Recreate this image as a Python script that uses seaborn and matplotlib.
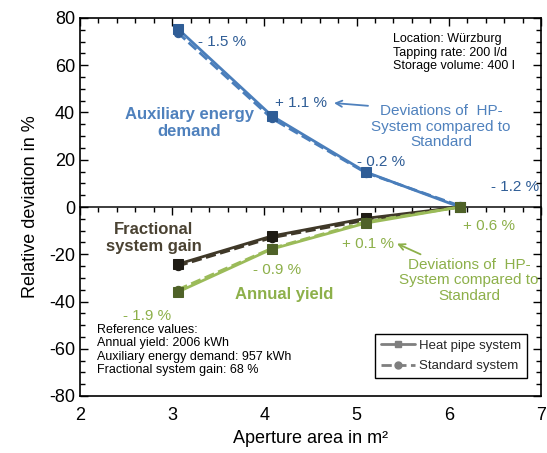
import matplotlib
matplotlib.use("Agg")
import matplotlib.pyplot as plt
import seaborn as sns
import numpy as np
from matplotlib.lines import Line2D
from matplotlib.ticker import MultipleLocator, NullFormatter

sns.set_theme(style="white")
plt.rcParams['font.family'] = ['Liberation Sans', 'DejaVu Sans']
plt.rcParams['axes.unicode_minus'] = False

aperture = [3.06, 4.08, 5.10, 6.12]
aux_hp = [75.5, 38.6, 14.8, 0.0]
aux_std = [73.8, 37.5, 14.5, 0.5]
frac_hp = [-24.2, -12.3, -4.8, 0.0]
frac_std = [-25.0, -13.0, -5.6, 0.0]
yield_hp = [-36.0, -17.8, -6.8, 0.0]
yield_std = [-35.0, -17.5, -6.3, 0.0]

aux_labels = ["- 1.5 %", "+ 1.1 %", "- 0.2 %", "- 1.2 %"]
yield_labels = ["- 1.9 %", "- 0.9 %", "+ 0.1 %", "+ 0.6 %"]

blue_line = "#4a7ebb"
blue_mark = "#2f5d96"
blue_text = "#4f81bd"
brown_line = "#3f3828"
brown_mark = "#1e1b14"
brown_text = "#4a4232"
green_line = "#9bbb59"
green_mark = "#4f6228"
green_text = "#8db04a"

L, R, T, B = 80, 541, 18, 396
W, H = 547, 453
fig = plt.figure(figsize=(5.47, 4.53), dpi=100)
ax = fig.add_axes([L / W, 1 - B / H, (R - L) / W, (B - T) / H])

series = [
    (aux_std, blue_line, blue_mark, "o", "--"),
    (aux_hp, blue_line, blue_mark, "s", "-"),
    (frac_std, brown_line, brown_mark, "o", "--"),
    (frac_hp, brown_line, brown_mark, "s", "-"),
    (yield_std, green_line, green_mark, "o", "--"),
    (yield_hp, green_line, green_mark, "s", "-"),
]
for vals, lc, mc, mk, ls in series:
    sns.lineplot(x=aperture, y=vals, ax=ax, color=lc, linewidth=2.0,
                 linestyle=ls, marker=mk, markersize=7 if mk == "s" else 6,
                 markerfacecolor=mc, markeredgecolor=mc, zorder=3)

ax.set_xlim(2, 7)
ax.set_ylim(-80, 80)
ax.xaxis.set_major_locator(MultipleLocator(1))
ax.xaxis.set_minor_locator(MultipleLocator(0.2))
ax.yaxis.set_major_locator(MultipleLocator(20))
ax.yaxis.set_minor_locator(MultipleLocator(5))
ax.tick_params(axis='x', which='both', bottom=False, top=True, direction='in',
               labelbottom=True, labelsize=13, colors='black', pad=8)
ax.tick_params(axis='x', which='major', length=6, width=1, color='black')
ax.tick_params(axis='x', which='minor', length=3.5, width=1, color='black')
ax.tick_params(axis='y', which='both', left=True, right=True, direction='in',
               labelsize=13, labelcolor='black', color='black')
ax.tick_params(axis='y', which='major', length=6, width=1)
ax.tick_params(axis='y', which='minor', length=3.5, width=1)
for sp in ax.spines.values():
    sp.set_color('black')
    sp.set_linewidth(1.2)

sec = ax.secondary_xaxis(0.5)
sec.xaxis.set_major_locator(MultipleLocator(1))
sec.xaxis.set_minor_locator(MultipleLocator(0.2))
sec.xaxis.set_major_formatter(NullFormatter())
sec.xaxis.set_minor_formatter(NullFormatter())
sec.tick_params(axis='x', which='both', direction='in', labelbottom=False,
                labeltop=False, color='black')
sec.tick_params(axis='x', which='major', length=6, width=1)
sec.tick_params(axis='x', which='minor', length=3.5, width=1)
sec.spines['bottom'].set_linewidth(2.0)
sec.spines['bottom'].set_color('black')

ax.set_xlabel("Aperture area in m²", fontsize=13, color='black', labelpad=4)
ax.set_ylabel("Relative deviation in %", fontsize=13, color='black', labelpad=7)

def xd(px):
    return 2 + (px - L) * 5.0 / (R - L)

# deviation labels
aux_pos = [(222, 70), (301, 44), (381, 19), (515, 8.5)]
for (xp, yv), t in zip(aux_pos, aux_labels):
    ax.text(xd(xp), yv, t, color=blue_mark, fontsize=11, ha='center', va='center')
yld_pos = [(147, -46), (277, -26.5), (368, -15.8), (489, -8.2)]
for (xp, yv), t in zip(yld_pos, yield_labels):
    ax.text(xd(xp), yv, t, color=green_text, fontsize=11, ha='center', va='center')

ax.text(xd(189), 35.4, "Auxiliary energy\ndemand", color=blue_text, fontsize=12,
        fontweight='bold', ha='center', va='center', linespacing=1.15)
ax.text(xd(154), -13, "Fractional\nsystem gain", color=brown_text, fontsize=12,
        fontweight='bold', ha='center', va='center', linespacing=1.15)
ax.text(xd(284), -37, "Annual yield", color=green_text, fontsize=12,
        fontweight='bold', ha='center', va='center')

ax.annotate("Deviations of  HP-\nSystem compared to\nStandard", xy=(xd(334), 44),
            xytext=(xd(441), 34), color=blue_text, fontsize=11, ha='center', va='center',
            linespacing=1.15,
            arrowprops=dict(arrowstyle='->', color=blue_text, lw=1.3,
                            shrinkA=0, shrinkB=0, relpos=(0.1, 0.93)))
ax.annotate("Deviations of  HP-\nSystem compared to\nStandard", xy=(xd(397), -15.5),
            xytext=(xd(469), -31), color=green_text, fontsize=11, ha='center', va='center',
            linespacing=1.15,
            arrowprops=dict(arrowstyle='->', color=green_text, lw=1.3,
                            shrinkA=0, shrinkB=0, relpos=(0.24, 0.95)))

ax.text(xd(393), 73.5, "Location: Würzburg\nTapping rate: 200 l/d\nStorage volume: 400 l",
        fontsize=9, color='black', ha='left', va='top', linespacing=1.15)
ax.text(xd(97), -49.5, "Reference values:\nAnnual yield: 2006 kWh\nAuxiliary energy demand: 957 kWh\nFractional system gain: 68 %",
        fontsize=9, color='black', ha='left', va='top', linespacing=1.15)

handles = [
    Line2D([0], [0], color='#7f7f7f', lw=2, linestyle='-', marker='s', markersize=5,
           markerfacecolor='#7f7f7f', markeredgecolor='#7f7f7f'),
    Line2D([0], [0], color='#7f7f7f', lw=2, linestyle='--', marker='o', markersize=5,
           markerfacecolor='#7f7f7f', markeredgecolor='#7f7f7f'),
]
leg = ax.legend(handles, ["Heat pipe system", "Standard system"], loc='lower right',
                bbox_to_anchor=(0.985, 0.03), fontsize=9.5, frameon=True, fancybox=False,
                edgecolor='black', framealpha=1, handlelength=2.6, handletextpad=0.3,
                borderpad=0.45, labelspacing=0.6)
leg.get_frame().set_linewidth(1.0)

fig.savefig("out.png", dpi=100)
